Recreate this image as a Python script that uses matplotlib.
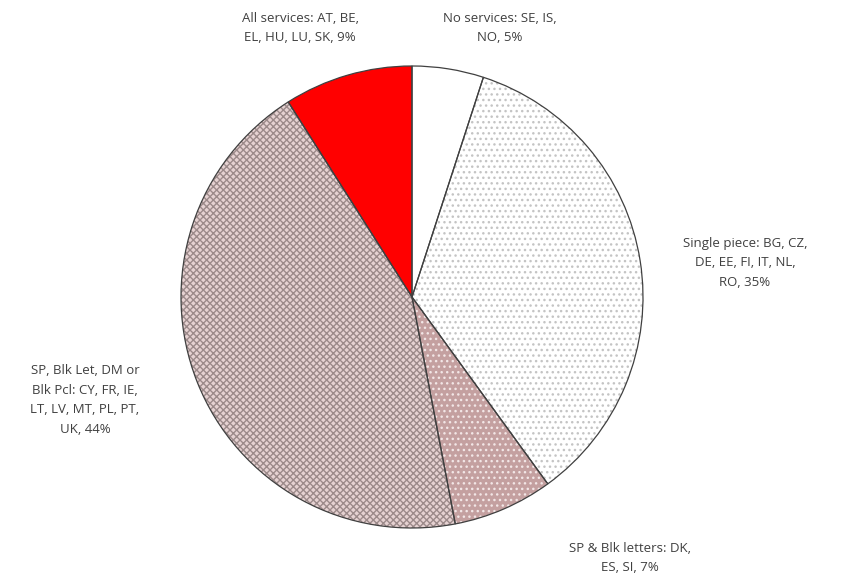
import matplotlib.pyplot as plt

labels = ["No services: SE, IS,\nNO, 5%",
          "Single piece: BG, CZ,\nDE, EE, FI, IT, NL,\nRO, 35%",
          "SP & Blk letters: DK,\nES, SI, 7%",
          "SP, Blk Let, DM or\nBlk Pcl: CY, FR, IE,\nLT, LV, MT, PL, PT,\nUK, 44%",
          "All services: AT, BE,\nEL, HU, LU, SK, 9%"]
values = [5, 35, 7, 44, 9]

face_colors = ['white', 'white', '#c4a0a0', '#e6d2d2', '#ff0000']
hatch_colors = ['white', '#c4c4c4', '#f2e6e6', '#9c8a8a', '#ff0000']
hatches = [None, '...', '...', 'xxxxx', None]

# label centres in pixels (x, y from top)
label_pos = [(500, 28), (745, 263), (630, 558), (85, 400), (300, 28)]

plt.rcParams['font.family'] = ['Open Sans', 'DejaVu Sans']

fig = plt.figure(figsize=(8.44, 5.77), dpi=100)
cx, cy, r = 412, 297, 231
ax = fig.add_axes([(cx - r) / 844, (577 - cy - r) / 577, 2 * r / 844, 2 * r / 577])

# filled wedges with hatches
wedges, _ = ax.pie(values, startangle=90, counterclock=False, colors=face_colors,
                   wedgeprops=dict(linewidth=0))
for w, h, hc in zip(wedges, hatches, hatch_colors):
    if h:
        w.set_hatch(h)
        w.set_edgecolor(hc)
        w.set_linewidth(0)

# outline on top
outline, _ = ax.pie(values, startangle=90, counterclock=False,
                    wedgeprops=dict(fill=False, edgecolor='#404040', linewidth=0.9))
ax.set_xlim(-1.0, 1.0)
ax.set_ylim(-1.0, 1.0)
ax.set_aspect('auto')
ax.axis('off')

for lab, (px, py) in zip(labels, label_pos):
    fig.text(px / 844, 1 - py / 577, lab, ha='center', va='center', fontsize=9.5,
             color='#404040', linespacing=1.65)

fig.savefig('out.png', dpi=100)
